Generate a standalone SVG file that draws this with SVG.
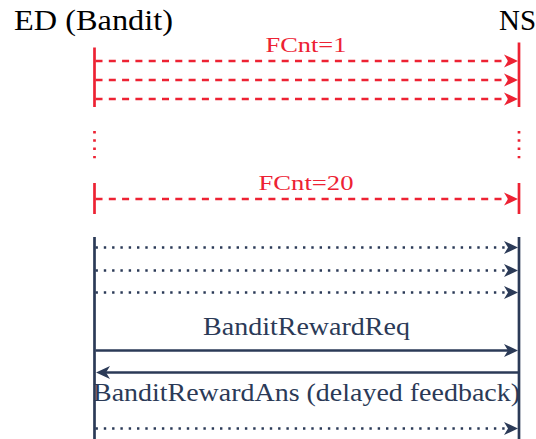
<svg xmlns="http://www.w3.org/2000/svg" width="536" height="439" viewBox="0 0 536 439">
<style>
  .r { stroke: #ED2233; stroke-width: 2.7; fill: none; }
  .b { stroke: #2B3A57; stroke-width: 2.7; fill: none; }
  .dash { stroke-dasharray: 7 6.3; }
  .dot { stroke-dasharray: 2.4 5.9; }
</style>
<defs>
  <marker id="ar" viewBox="-12 -8 18 16" refX="0" refY="0" markerWidth="18" markerHeight="16" markerUnits="userSpaceOnUse" orient="auto">
    <path d="M4,0 L-10,-6.5 L-6,0 L-10,6.5 Z" fill="#ED2233"/>
  </marker>
  <marker id="ab" viewBox="-12 -8 18 16" refX="0" refY="0" markerWidth="18" markerHeight="16" markerUnits="userSpaceOnUse" orient="auto">
    <path d="M4,0 L-10,-6.5 L-6,0 L-10,6.5 Z" fill="#2B3A57"/>
  </marker>
</defs>

<g id="ED">
  <text x="14" y="30" font-size="29" fill="#000" font-family="Liberation Serif" textLength="159" lengthAdjust="spacingAndGlyphs">ED (Bandit)</text>
  <line class="r" x1="94.5" y1="47.5" x2="94.5" y2="107"/>
  <line class="r dot" x1="94.5" y1="131" x2="94.5" y2="159"/>
  <line class="r" x1="94.5" y1="183" x2="94.5" y2="214"/>
  <line class="b" x1="94.5" y1="237" x2="94.5" y2="439"/>
</g>

<g id="NS">
  <text x="499" y="30" font-size="29" fill="#000" font-family="Liberation Serif" textLength="37" lengthAdjust="spacingAndGlyphs">NS</text>
  <line class="r" x1="519" y1="42.5" x2="519" y2="107"/>
  <line class="r dot" x1="519" y1="131" x2="519" y2="159"/>
  <line class="r" x1="519" y1="183" x2="519" y2="214"/>
  <line class="b" x1="519" y1="237" x2="519" y2="439"/>
</g>

<g id="connectors">
  <line class="r dash" x1="95.5" y1="61" x2="514" y2="61" marker-end="url(#ar)"/>
  <line class="r dash" x1="95.5" y1="80" x2="514" y2="80" marker-end="url(#ar)"/>
  <line class="r dash" x1="95.5" y1="99" x2="514" y2="99" marker-end="url(#ar)"/>
  <line class="r dash" x1="95.5" y1="199" x2="514" y2="199" marker-end="url(#ar)"/>

  <line class="b dot" x1="95.5" y1="247.5" x2="514" y2="247.5" marker-end="url(#ab)"/>
  <line class="b dot" x1="95.5" y1="270.5" x2="514" y2="270.5" marker-end="url(#ab)"/>
  <line class="b dot" x1="95.5" y1="292.5" x2="514" y2="292.5" marker-end="url(#ab)"/>
  <line class="b" x1="95.5" y1="350.5" x2="514" y2="350.5" marker-end="url(#ab)"/>
  <line class="b" x1="518" y1="372.5" x2="100" y2="372.5" marker-end="url(#ab)"/>
  <line class="b dot" x1="95.5" y1="428.5" x2="514" y2="428.5" marker-end="url(#ab)"/>
</g>

<g id="labels">
  <text x="306" y="52" font-size="22" fill="#ED2233" font-family="Liberation Serif" text-anchor="middle" textLength="81" lengthAdjust="spacingAndGlyphs">FCnt=1</text>
  <text x="306" y="190" font-size="22" fill="#ED2233" font-family="Liberation Serif" text-anchor="middle" textLength="95" lengthAdjust="spacingAndGlyphs">FCnt=20</text>
  <text x="306.5" y="335" font-size="26" fill="#2B3A57" font-family="Liberation Serif" text-anchor="middle" textLength="207" lengthAdjust="spacingAndGlyphs">BanditRewardReq</text>
  <text x="306.5" y="401" font-size="26" fill="#2B3A57" font-family="Liberation Serif" text-anchor="middle" textLength="427" lengthAdjust="spacingAndGlyphs">BanditRewardAns (delayed feedback)</text>
</g>
</svg>
